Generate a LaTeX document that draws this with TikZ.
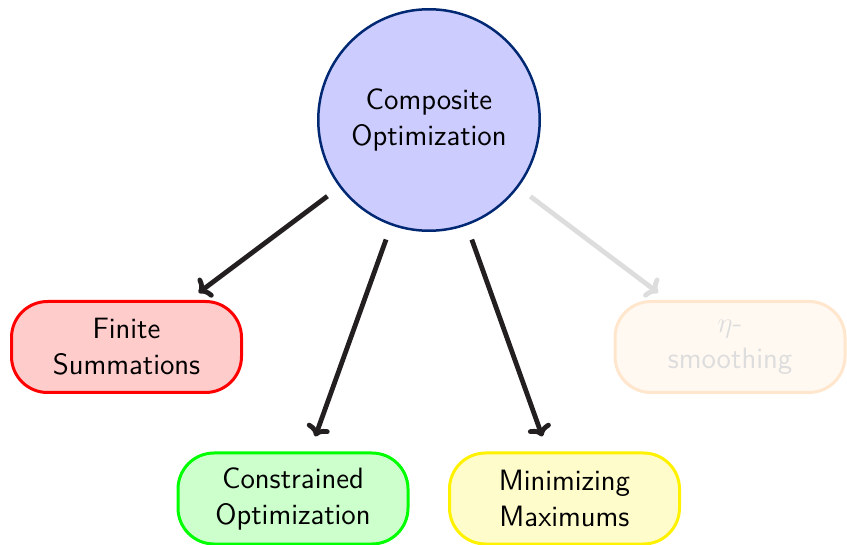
\documentclass[tikz,border=0pt]{standalone}
\usetikzlibrary{arrows.meta}
\definecolor{circfill}{RGB}{204,204,255}
\definecolor{circedge}{RGB}{0,40,115}
\definecolor{arrowdark}{RGB}{35,31,32}
\definecolor{fadegray}{RGB}{221,221,221}
\definecolor{fadefill}{RGB}{255,249,242}
\definecolor{fadeedge}{RGB}{255,230,204}
\tikzset{
  every node/.style={font=\sffamily\fontsize{14.7}{18}\selectfont, align=center},
  topic/.style={circle, draw=circedge, fill=circfill, line width=1.25pt, minimum size=110.75pt, inner sep=0pt},
  leaf/.style={rectangle, rounded corners=18pt, line width=1.5pt, minimum width=115pt, minimum height=45.5pt, inner sep=0pt},
  link/.style={draw=arrowdark, line width=2.4pt, -{To[length=5.5pt,width=12pt]}, shorten <=7.5pt},
}
\begin{document}
\begin{tikzpicture}[x=0.5pt, y=-0.5pt]
  \useasboundingbox (0,0) rectangle (847,545);

  \node[topic] (root) at (429,120) {Composite\\Optimization};

  \node[leaf, draw=red, fill=red!20] (fin) at (126.5,347) {Finite\\Summations};
  \node[leaf, draw=green, fill=green!20] (con) at (293,498.5) {Constrained\\Optimization};
  \node[leaf, draw=yellow, fill=yellow!20] (minmax) at (564.5,498.5) {Minimizing\\Maximums};
  \node[leaf, draw=fadeedge, fill=fadefill, text=fadegray] (eta) at (730,347) {$\eta$-\\smoothing};

  \draw[link, shorten >=6pt] (root) -- (fin);
  \draw[link, shorten >=8pt] (root) -- (con);
  \draw[link, shorten >=8pt] (root) -- (minmax);
  \draw[link, draw=fadegray, shorten >=6pt] (root) -- (eta);
\end{tikzpicture}
\end{document}
